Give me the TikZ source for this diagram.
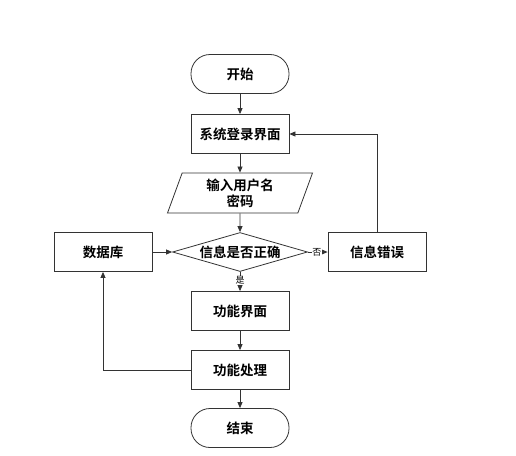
\documentclass[tikz,border=0pt]{standalone}
\usepackage{fontspec}
\usepackage{tikz}
\usetikzlibrary{positioning, arrows.meta, shapes.geometric}
\newfontfamily\cjk{Noto Sans CJK SC}[BoldFont={Noto Sans CJK SC Bold}]
\colorlet{linecolor}{black!80}
\tikzset{
    box/.style={draw=linecolor, line width=0.8pt, minimum width=98pt, minimum height=39pt, inner sep=0pt},
    terminal/.style={box, rounded corners=19pt},
    iobox/.style={draw=linecolor, line width=0.8pt, trapezium, trapezium left angle=63, trapezium right angle=117,
        trapezium stretches body, minimum width=145pt, minimum height=40pt, inner sep=0pt, align=center},
    decision/.style={draw=linecolor, line width=0.8pt, diamond, aspect=3.46, minimum width=135pt, minimum height=39pt, inner sep=0pt},
    flow/.style={draw=linecolor, line width=0.8pt, -{Triangle[length=6pt, width=5pt]}},
    tag/.style={fill=white, inner sep=0.5pt, font=\cjk\mdseries\fontsize{9}{9}\selectfont}
}

\begin{document}
\begin{tikzpicture}[x=1pt, y=-1pt, font=\cjk\bfseries\fontsize{13.5}{16}\selectfont]
    \useasboundingbox (0,0) rectangle (516,455);

    % ===== Main column =====
    \node[terminal] (start) at (240, 74) {开始};
    \node[box] (login) at (240, 134) {系统登录界面};
    \node[iobox] (input) at (240, 193) {输入用户名\\密码};
    \node[decision] (check) at (240, 252) {信息是否正确};
    \node[box] (func) at (240, 311) {功能界面};
    \node[box] (proc) at (240, 370) {功能处理};
    \node[terminal] (stop) at (240, 428) {结束};

    % ===== Side boxes =====
    \node[box] (db) at (103, 252) {数据库};
    \node[box] (err) at (377, 252) {信息错误};

    % ===== Connectors =====
    \draw[flow] (start) -- (login);
    \draw[flow] (login) -- (input);
    \draw[flow] (input) -- (check);
    \draw[flow] (db) -- (check);
    \draw[flow] (check) -- node[tag, pos=0.45] {否} (err);
    \draw[flow] (check) -- node[tag, pos=0.45] {是} (func);
    \draw[flow] (func) -- (proc);
    \draw[flow] (proc) -- (stop);

    % loops back
    \draw[flow] (err.north) |- (login.east);
    \draw[flow] (proc.west) -| (db.south);

\end{tikzpicture}
\end{document}
